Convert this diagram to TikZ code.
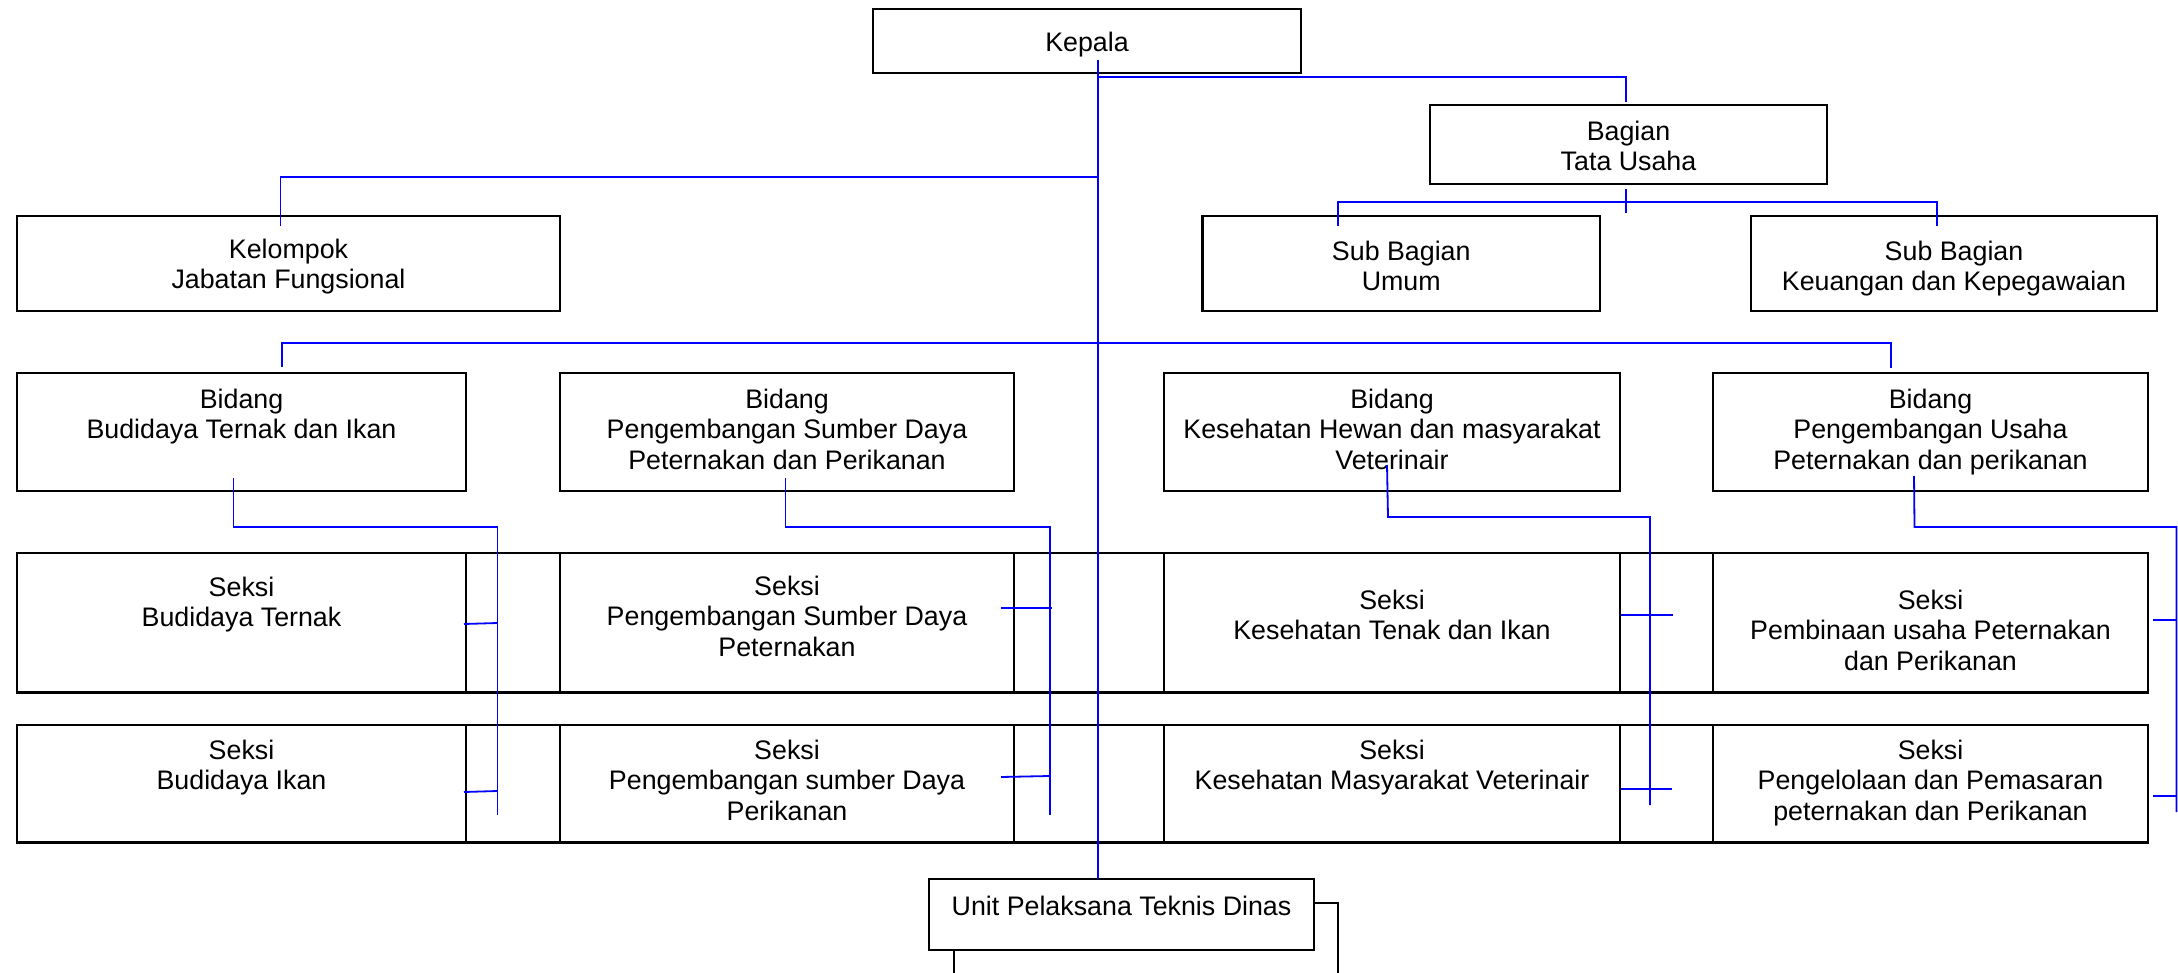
\documentclass[tikz,border=0pt]{standalone}
\usepackage{fontspec}
\setmainfont{Liberation Sans}
\tikzset{
  orgbox/.style={draw=black, line width=2.2pt, inner sep=0pt, outer sep=0pt, rectangle},
  orgtxt/.style={inner sep=0pt, align=center, anchor=north, font=\fontsize{26.8}{30.5}\selectfont},
  conn/.style={draw=blue, line width=1.8pt},
  blk/.style={draw=black, line width=2.2pt},
}
\newcommand\obox[7]{%
  \node[orgbox, minimum width={(#4-#2)*1pt}, minimum height={(#5-#3)*1pt}] (#1) at ({(#2+#4)/2},{(#3+#5)/2}) {};
  \node[orgtxt] (#1-t) at ({(#2+#4)/2},#6) {#7};
}
\begin{document}
\begin{tikzpicture}[x=1pt, y=-1pt]
\useasboundingbox (0,0) rectangle (2178,973);

% boxes
\obox{kepala}{873}{9}{1301}{73}{31.5}{Kepala}
\obox{bagian}{1430}{105}{1827}{184}{120.5}{Bagian\\Tata Usaha}
\obox{subumum}{1202.5}{216}{1600}{311}{240.5}{Sub Bagian\\Umum}
\obox{subkeu}{1751}{216}{2157}{311}{240.5}{Sub Bagian\\Keuangan dan Kepegawaian}
\obox{kelompok}{17}{216}{560}{311}{238.5}{Kelompok\\Jabatan Fungsional}

\obox{b1}{17}{373}{466}{491}{388.5}{Bidang\\Budidaya Ternak dan Ikan}
\obox{b2}{560}{373}{1014}{491}{388.5}{Bidang\\Pengembangan Sumber Daya\\Peternakan dan Perikanan}
\obox{b3}{1164}{373}{1620}{491}{388.5}{Bidang\\Kesehatan Hewan dan masyarakat\\Veterinair}
\obox{b4}{1713}{373}{2148}{491}{388.5}{Bidang\\Pengembangan Usaha\\Peternakan dan perikanan}

\obox{s11}{17}{553}{466}{692.5}{576.5}{Seksi\\Budidaya Ternak}
\obox{s12}{560}{553}{1014}{692.5}{575.5}{Seksi\\Pengembangan Sumber Daya\\Peternakan}
\obox{s13}{1164}{553}{1620}{692.5}{589.5}{Seksi\\Kesehatan Tenak dan Ikan}
\obox{s14}{1713}{553}{2148}{692.5}{589.5}{Seksi\\Pembinaan usaha Peternakan\\dan Perikanan}

\obox{s21}{17}{725}{466}{842.5}{739.5}{Seksi\\Budidaya Ikan}
\obox{s22}{560}{725}{1014}{842.5}{739.5}{Seksi\\Pengembangan sumber Daya\\Perikanan}
\obox{s23}{1164}{725}{1620}{842.5}{739.5}{Seksi\\Kesehatan Masyarakat Veterinair}
\obox{s24}{1713}{725}{2148}{842.5}{739.5}{Seksi\\Pengelolaan dan Pemasaran\\peternakan dan Perikanan}

\obox{uptd}{929}{879}{1314}{950}{895.5}{Unit Pelaksana Teknis Dinas}

% table strip lines between seksi boxes
\draw[blk] (s11.north east) -- (s12.north west) (s11.south east) -- (s12.south west);
\draw[blk] (s12.north east) -- (s13.north west) (s12.south east) -- (s13.south west);
\draw[blk] (s13.north east) -- (s14.north west) (s13.south east) -- (s14.south west);
\draw[blk] (s21.north east) -- (s22.north west) (s21.south east) -- (s22.south west);
\draw[blk] (s22.north east) -- (s23.north west) (s22.south east) -- (s23.south west);
\draw[blk] (s23.north east) -- (s24.north west) (s23.south east) -- (s24.south west);

% black lines below UPTD
\coordinate (u1) at (1338,973);
\coordinate (u2) at (954,973);
\draw[blk] (uptd.east |- 0,903) -- (1338,903) -- (u1);
\draw[blk] (uptd.south -| u2) -- (u2);

% blue connectors
\coordinate (k0) at (1098,60);
\draw[conn] (k0) -- (k0 |- uptd.north);
% Kepala -> Bagian
\coordinate (kb) at (1626,102);
\draw[conn] (1098,77) -- (1626,77) -- (kb);
% Bagian -> Sub Bagian
\coordinate (sa) at (1338,226);
\coordinate (sb) at (1937,226);
\draw[conn] (1626,189) -- (1626,213);
\draw[conn] (sa) -- (1338,202) -- (1937,202) -- (sb);
% Kepala -> Kelompok
\coordinate (kk) at (280.5,226);
\draw[conn] (1098,177) -- (280.5,177) -- (kk);
% Bidang bus
\coordinate (bb1) at (282,367);
\coordinate (bb4) at (1891,368);
\draw[conn] (bb1) -- (282,343) -- (1891,343) -- (bb4);

% Bidang 1 -> seksi
\draw[conn] (233.5,478) -- (233.5,527) -- (497.5,527) -- (497.5,815);
\draw[conn] (464,624) -- (497.5,623);
\draw[conn] (464,792) -- (497.5,791);
% Bidang 2 -> seksi
\draw[conn] (785.5,478) -- (785.5,527) -- (1050,527) -- (1050,815);
\draw[conn] (1001,608) -- (1052,608);
\draw[conn] (1001,777) -- (1050,776);
% Bidang 3 -> seksi
\draw[conn] (1387,465) -- (1388,517) -- (1650,517) -- (1650,805);
\draw[conn] (1621,615) -- (1673,615);
\draw[conn] (1621,789) -- (1672,789);
% Bidang 4 -> seksi
\draw[conn] (1914,476) -- (1914.5,527) -- (2176.5,527) -- (2176.5,812);
\draw[conn] (2153,620) -- (2177,620);
\draw[conn] (2153,796) -- (2177,796);
\end{tikzpicture}
\end{document}
